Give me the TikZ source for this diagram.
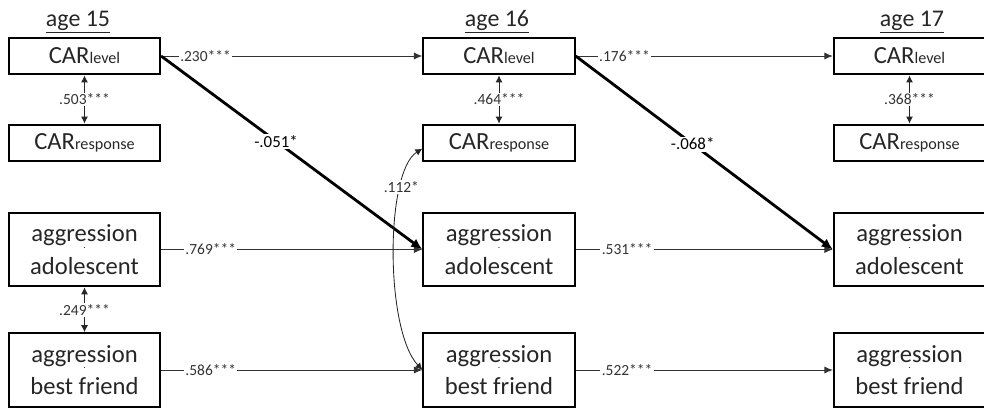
\documentclass[tikz,border=0pt]{standalone}
\usepackage{fontspec}
\setmainfont{Carlito}
\usetikzlibrary{arrows.meta}
\newcommand{\aggr}[1]{aggression\\\ooalign{\hfil\raisebox{1.05em}{\fontsize{7}{7}\selectfont.}\hfil\cr#1\cr}}
\newcommand{\car}[1]{CAR{\fontsize{11.5}{11.5}\selectfont #1}}
\begin{document}
\begin{tikzpicture}[
				x=0.025cm, y=-0.025cm,
				cell/.style={rectangle, draw, line width=1.4pt, minimum width=3.78cm, minimum height=0.92cm, inner sep=0pt, text=black!85, font=\fontsize{17.5}{21}\selectfont},
				tall/.style={minimum height=1.84cm, align=center, font=\fontsize{17.5}{23}\selectfont},
				heading/.style={anchor=base, text=black!85, font=\fontsize{17}{17}\selectfont},
				link/.style={draw=black!80, line width=0.7pt, -{Latex[length=6pt, width=5pt]}},
				strong/.style={draw=black, line width=2pt, -{Latex[length=8pt, width=7pt]}},
				both/.style={draw=black!85, line width=0.7pt, {Latex[length=5pt, width=5pt]}-{Latex[length=5pt, width=5pt]}},
				coef/.style={fill=white, inner sep=1pt, text=black!80, font=\fontsize{11}{11}\selectfont},
				bigcoef/.style={coef, text=black, font=\fontsize{12}{12}\selectfont}
				]
				\useasboundingbox (0,0) rectangle (984,409);
				\node[heading] (h15) at (78,26) {\underline{age 15}};
				\node[heading] (h16) at (497,26) {\underline{age 16}};
				\node[heading] (h17) at (912,26) {\underline{age 17}};
				\node[cell] (lev15) at (84.5,56) {\car{level}};
				\node[cell] (res15) at (84.5,143) {\car{response}};
				\node[cell, tall] (ado15) at (84.5,249.5) {\aggr{adolescent}};
				\node[cell, tall] (bf15) at (84.5,370) {\aggr{best friend}};
				\node[cell] (lev16) at (499,56) {\car{level}};
				\node[cell] (res16) at (499,143) {\car{response}};
				\node[cell, tall] (ado16) at (499,249.5) {\aggr{adolescent}};
				\node[cell, tall] (bf16) at (499,370) {\aggr{best friend}};
				\node[cell] (lev17) at (909.5,56) {\car{level}};
				\node[cell] (res17) at (909.5,143) {\car{response}};
				\node[cell, tall] (ado17) at (909.5,249.5) {\aggr{adolescent}};
				\node[cell, tall] (bf17) at (909.5,370) {\aggr{best friend}};
				\draw[link] (lev15) -- node[coef, pos=0.17] {.230***} (lev16);
				\draw[link] (ado15) -- node[coef, pos=0.19] {.769***} (ado16);
				\draw[link] (bf15) -- node[coef, pos=0.19] {.586***} (bf16);
				\draw[link] (lev16) -- node[coef, pos=0.19] {.176***} (lev17);
				\draw[link] (ado16) -- node[coef, pos=0.2] {.531***} (ado17);
				\draw[link] (bf16) -- node[coef, pos=0.2] {.522***} (bf17);
				\draw[both] (lev15) -- node[coef] {.503***} (res15);
				\draw[both] (ado15) -- node[coef] {.249***} (bf15);
				\draw[both] (lev16) -- node[coef] {.464***} (res16);
				\draw[both] (lev17) -- node[coef] {.368***} (res17);
				\draw[strong] (lev15.east) -- node[bigcoef, pos=0.44] {-.051*} (ado16.west);
				\draw[strong] (lev16.east) -- node[bigcoef, pos=0.455] {-.068*} (ado17.west);
				\draw[both, line width=0.6pt] ([yshift=-4pt]res16.west) .. controls (385,172) and (385,330) .. node[coef, pos=0.25] {.112*} (bf16.west);
			\end{tikzpicture}
\end{document}
